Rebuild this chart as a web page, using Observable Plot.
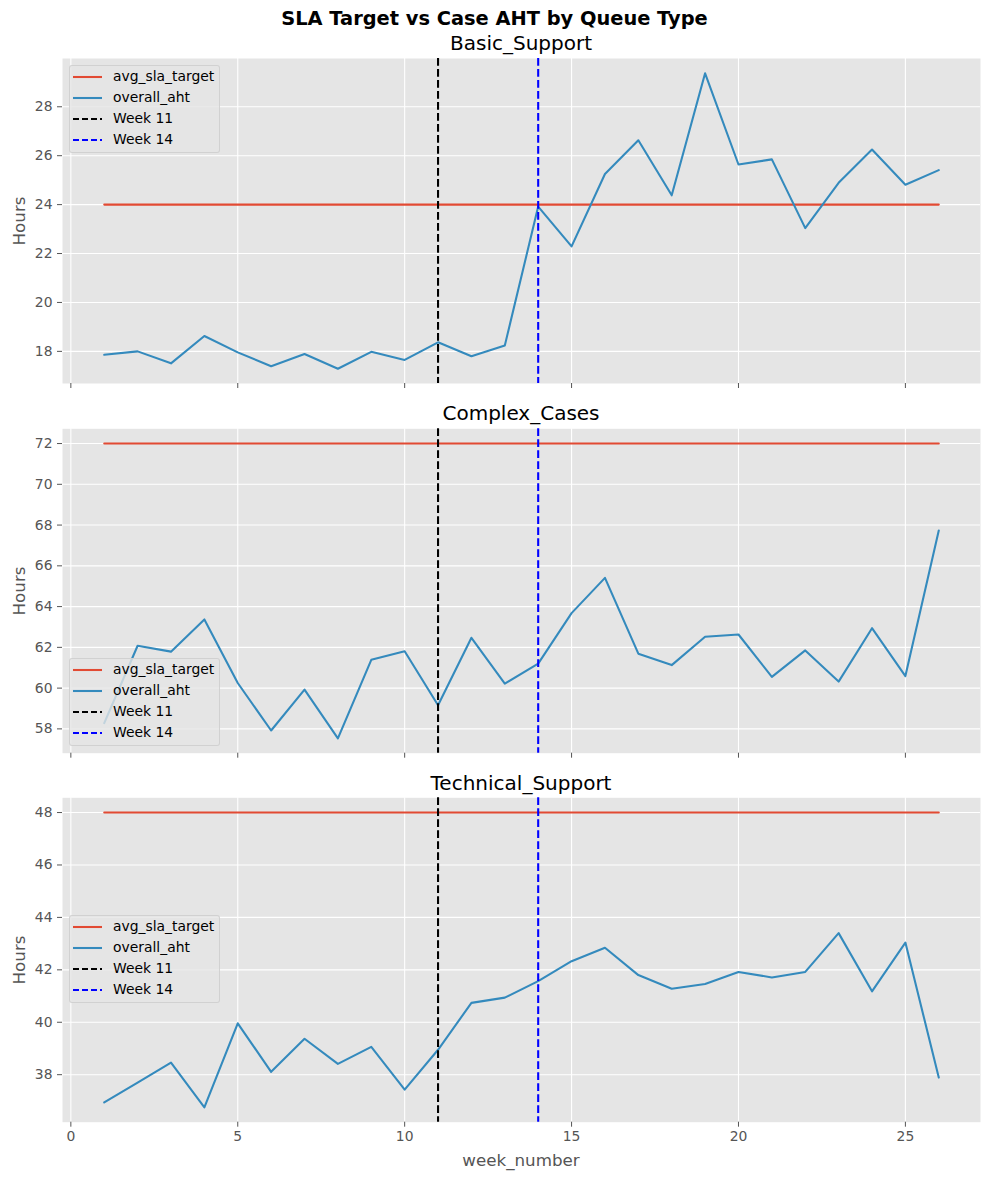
<!DOCTYPE html>
<html><head><meta charset="utf-8">
<script src="https://cdn.jsdelivr.net/npm/d3@7"></script>
<script src="https://cdn.jsdelivr.net/npm/@observablehq/plot@0.6"></script>
<style>
body{margin:0;background:#fff;font-family:"DejaVu Sans",sans-serif}
#fig{position:relative;width:989px;height:1180px;overflow:hidden}
.abs{position:absolute;white-space:nowrap}
svg{position:absolute;left:0}
</style>
</head><body><div id="fig"></div>
<script>
// ---- data ----
const weeks = [1,2,3,4,5,6,7,8,9,10,11,12,13,14,15,16,17,18,19,20,21,22,23,24,25,26];
const queueNames = ["Basic_Support","Complex_Cases","Technical_Support"];
const slaTargets = [24, 72, 48];
const basicAht = [17.86,18.00,17.51,18.63,17.96,17.39,17.89,17.29,17.98,17.65,18.37,17.80,18.24,23.92,22.29,25.25,26.63,24.38,29.37,25.64,25.85,23.04,24.89,26.25,24.81,25.41];
const complexAht = [58.28,62.08,61.79,63.37,60.25,57.92,59.93,57.53,61.39,61.81,59.16,62.47,60.22,61.20,63.68,65.41,61.69,61.13,62.52,62.63,60.55,61.85,60.32,62.94,60.59,67.73];
const techAht = [36.94,37.70,38.46,36.75,39.96,38.11,39.37,38.41,39.06,37.43,38.95,40.74,40.94,41.57,42.33,42.84,41.80,41.28,41.46,41.92,41.71,41.92,43.40,41.18,43.04,37.89];
const ahtSeries = [basicAht, complexAht, techAht];
const xTicks = [0,5,10,15,20,25];
const yTicksList = [[18,20,22,24,26,28],[58,60,62,64,66,68,70,72],[38,40,42,44,46,48]];
const markerWeeks = [11, 14];
const markerLabels = ["Week 11", "Week 14"];
const seriesLabels = ["avg_sla_target", "overall_aht"];

// ---- style ----
const C_SLA = "#E24A33", C_AHT = "#348ABD", C_W11 = "black", C_W14 = "blue";
const LW = 2.08, DASH = "7.7,3.3";

const fig = document.getElementById("fig");
function addText(txt, css) {
  const d = document.createElement("div");
  d.className = "abs"; d.textContent = txt;
  Object.assign(d.style, css);
  fig.appendChild(d);
  return d;
}

const layout = [
  {top: 0,   height: 395, mt: 58,   mb: 12,   titleTop: 32.5, legendTop: 65},
  {top: 395, height: 370, mt: 33.3, mb: 12.3, titleTop: 402.5, legendTop: 658.3},
  {top: 765, height: 415, mt: 32.3, mb: 58.3, titleTop: 772.5, legendTop: 915.3}
];

queueNames.forEach((q, i) => {
  const L = layout[i];
  const aht = ahtSeries[i];
  const sla = slaTargets[i];
  const ahtData = weeks.map((w, k) => ({week: w, value: aht[k]}));
  const slaData = weeks.map(w => ({week: w, value: sla}));
  const ext = d3.extent([...aht, sla]);
  const pad = (ext[1] - ext[0]) * 0.05;
  const xMin = d3.min(weeks), xMax = d3.max(weeks);
  const xPad = (xMax - xMin) * 0.05;
  const svg = Plot.plot({
    width: 989, height: L.height,
    marginLeft: 62, marginRight: 9, marginTop: L.mt, marginBottom: L.mb,
    style: {fontFamily: "DejaVu Sans", fontSize: "13.9px", color: "#555555", background: "transparent"},
    x: {domain: [xMin - xPad, xMax + xPad]},
    y: {domain: [ext[0] - pad, ext[1] + pad]},
    marks: [
      Plot.frame({fill: "#E5E5E5", stroke: "none"}),
      Plot.gridX({ticks: xTicks, stroke: "white", strokeOpacity: 1, strokeWidth: 1.1}),
      Plot.gridY({ticks: yTicksList[i], stroke: "white", strokeOpacity: 1, strokeWidth: 1.1}),
      Plot.line(slaData, {x: "week", y: "value", stroke: C_SLA, strokeWidth: LW}),
      Plot.line(ahtData, {x: "week", y: "value", stroke: C_AHT, strokeWidth: LW}),
      Plot.ruleX([markerWeeks[0]], {stroke: C_W11, strokeWidth: LW, strokeDasharray: DASH}),
      Plot.ruleX([markerWeeks[1]], {stroke: C_W14, strokeWidth: LW, strokeDasharray: DASH}),
      Plot.axisX({ticks: xTicks, tickSize: 5, tickPadding: 4, label: null,
                  tickFormat: i === 2 ? (d => String(d)) : (() => "")}),
      Plot.axisY({ticks: yTicksList[i], tickSize: 5, tickPadding: 5, label: null})
    ]
  });
  svg.style.top = L.top + "px";
  fig.appendChild(svg);

  // subplot title
  addText(q, {left: "521px", top: L.titleTop + "px", transform: "translateX(-50%)",
              fontSize: "20px", lineHeight: "20px", color: "black"});
  // y label
  const yc = L.top + L.mt + (L.height - L.mt - L.mb) / 2;
  addText("Hours", {left: "19px", top: yc + "px", transform: "translate(-50%,-50%) rotate(-90deg)",
                    fontSize: "16.7px", lineHeight: "16.7px", color: "#555555"});
  // legend
  const leg = document.createElement("div");
  leg.className = "abs";
  Object.assign(leg.style, {left: "69px", top: L.legendTop + "px", width: "151px", height: "88px",
    background: "rgba(229,229,229,0.8)", border: "1px solid rgba(204,204,204,0.8)", borderRadius: "3px",
    boxSizing: "border-box"});
  const entries = [
    {label: seriesLabels[0], color: C_SLA, dash: null},
    {label: seriesLabels[1], color: C_AHT, dash: null},
    {label: markerLabels[0], color: C_W11, dash: DASH},
    {label: markerLabels[1], color: C_W14, dash: DASH}
  ];
  entries.forEach((e, k) => {
    const cy = 11.7 + 21 * k - 1;
    const ns = "http://www.w3.org/2000/svg";
    const s = document.createElementNS(ns, "svg");
    s.setAttribute("width", "30"); s.setAttribute("height", "6");
    s.style.position = "absolute"; s.style.left = "3px"; s.style.top = (cy - 3) + "px";
    const ln = document.createElementNS(ns, "line");
    ln.setAttribute("x1", "0"); ln.setAttribute("x2", "29"); ln.setAttribute("y1", "3"); ln.setAttribute("y2", "3");
    ln.setAttribute("stroke", e.color); ln.setAttribute("stroke-width", LW);
    if (e.dash) ln.setAttribute("stroke-dasharray", "6,3");
    s.appendChild(ln); leg.appendChild(s);
    const t = document.createElement("div");
    t.className = "abs"; t.textContent = e.label;
    Object.assign(t.style, {left: "43px", top: (cy - 7) + "px", fontSize: "13.9px", lineHeight: "13.9px", color: "black"});
    leg.appendChild(t);
  });
  fig.appendChild(leg);
});

addText("SLA Target vs Case AHT by Queue Type", {left: "494.5px", top: "8.6px", transform: "translateX(-50%)",
  fontSize: "19.4px", lineHeight: "19.4px", fontWeight: "bold", color: "black"});
addText("week_number", {left: "521px", top: "1151.7px", transform: "translateX(-50%)",
  fontSize: "16.7px", lineHeight: "16.7px", color: "#555555"});
</script></body></html>
